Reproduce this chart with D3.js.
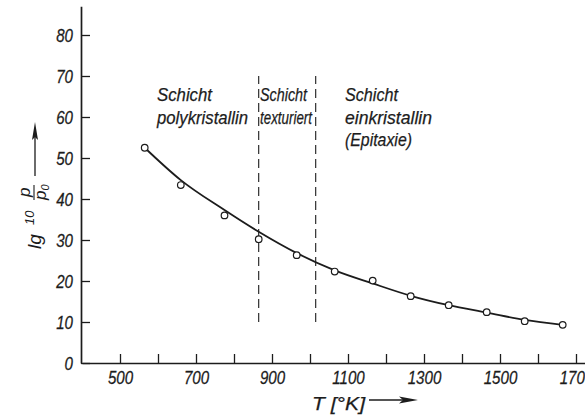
<!DOCTYPE html>
<html>
<head>
<meta charset="utf-8">
<script src="https://cdn.jsdelivr.net/npm/d3@7"></script>
<style>
  html, body { margin: 0; padding: 0; background: #fff; }
  svg { display: block; }
  text { font-family: 'Liberation Sans Narrow', 'Liberation Sans', sans-serif; font-style: italic; fill: #1c1c1c; }
</style>
</head>
<body>
<svg id="chart" width="585" height="417"></svg>
<script>
// measured points (open circles)
var temps = [565, 660, 775, 865, 965, 1065, 1165, 1265, 1365, 1465, 1565, 1665];
var lgRatio = [52.5, 43.4, 36.0, 30.2, 26.3, 22.3, 20.1, 16.3, 14.1, 12.4, 10.2, 9.3];

// smooth curve as drawn through the points
var fitTemps = [565, 660, 775, 865, 965, 1065, 1165, 1265, 1365, 1465, 1565, 1665];
var fitValues = [52.5, 44.6, 37.3, 32.0, 26.8, 22.6, 19.4, 16.4, 14.1, 12.3, 10.5, 9.3];

// dashed region boundaries and their vertical extent
var boundaryTemps = [865, 1015];
var boundarySpan = [10, 70];

var regionLabels = [
  ['Schicht', 'polykristallin'],
  ['Schicht', 'texturiert'],
  ['Schicht', 'einkristallin', '(Epitaxie)']
];

var xTicks = d3.range(500, 1701, 100);
var yTicks = d3.range(0, 81, 10);

var svg = d3.select('#chart');
var ink = '#1c1c1c';

var x = d3.scaleLinear().domain([400, 1725]).range([82, 585.5]);
var y = d3.scaleLinear().domain([0, 87]).range([363, 6.3]);

// axes, ticks pointing inward
var xAxis = svg.append('g')
  .attr('transform', 'translate(0,363)')
  .call(d3.axisBottom(x)
    .tickValues(xTicks)
    .tickSize(-9)
    .tickSizeOuter(0)
    .tickPadding(8)
    .tickFormat(function(d) { return (d / 100) % 2 ? d : ''; }));

var yAxis = svg.append('g')
  .attr('transform', 'translate(81,0)')
  .call(d3.axisLeft(y)
    .tickValues(yTicks)
    .tickSize(-9)
    .tickSizeOuter(0)
    .tickPadding(8));

[xAxis, yAxis].forEach(function(g) {
  g.attr('font-family', null).attr('font-size', null);
  g.select('.domain').attr('stroke', ink).attr('stroke-width', 1.7);
  g.selectAll('.tick line').attr('stroke', ink).attr('stroke-width', 1.3);
  g.selectAll('.tick text')
    .attr('fill', ink)
    .attr('stroke', ink)
    .attr('stroke-width', 0.25)
    .attr('transform', 'scale(0.84,1)')
    .style('font-size', '18px');
});
yAxis.selectAll('.tick text').attr('x', -9.5).attr('dy', '0.36em');

// dashed boundaries
svg.append('g').selectAll('line')
  .data(boundaryTemps)
  .enter().append('line')
  .attr('x1', function(d) { return x(d); })
  .attr('x2', function(d) { return x(d); })
  .attr('y1', y(boundarySpan[0]))
  .attr('y2', y(boundarySpan[1]))
  .attr('stroke', ink)
  .attr('stroke-width', 1.1)
  .attr('stroke-dasharray', '9,5');

// curve
var line = d3.line()
  .x(function(d) { return x(d[0]); })
  .y(function(d) { return y(d[1]); })
  .curve(d3.curveMonotoneX);

svg.append('path')
  .datum(d3.zip(fitTemps, fitValues))
  .attr('d', line)
  .attr('fill', 'none')
  .attr('stroke', ink)
  .attr('stroke-width', 1.8);

// points
svg.append('g').selectAll('circle')
  .data(d3.zip(temps, lgRatio))
  .enter().append('circle')
  .attr('cx', function(d) { return x(d[0]); })
  .attr('cy', function(d) { return y(d[1]); })
  .attr('r', 3.3)
  .attr('fill', '#fff')
  .attr('stroke', ink)
  .attr('stroke-width', 1.2);

// region captions
var captionX = [157, 260, 345];
var captionWidths = [[55, 91], [47, 52], [53, 87, 67]];
regionLabels.forEach(function(lines, i) {
  lines.forEach(function(t, j) {
    svg.append('text')
      .attr('x', captionX[i])
      .attr('y', 101 + j * 22.5)
      .attr('textLength', captionWidths[i][j])
      .attr('lengthAdjust', 'spacingAndGlyphs')
      .attr('stroke', ink)
      .attr('stroke-width', 0.25)
      .style('font-size', '19px')
      .text(t);
  });
});

// y axis title: lg 10 p/p0 with arrow
var yt = svg.append('g').attr('transform', 'translate(41,249) rotate(-90)');
yt.append('text').attr('x', 0).attr('y', 0).style('font-size', '19px').text('lg');
yt.append('text').attr('x', 24).attr('y', -7).style('font-size', '13px').text('10');
yt.append('text').attr('x', 52).attr('y', -11).style('font-size', '17px').text('p');
yt.append('line').attr('x1', 49).attr('x2', 64).attr('y1', -7).attr('y2', -7)
  .attr('stroke', ink).attr('stroke-width', 1.1);
var den = yt.append('text').attr('x', 49).attr('y', 5).style('font-size', '17px');
den.append('tspan').text('p');
den.append('tspan').attr('dy', 3).style('font-size', '11px').text('0');

svg.append('line').attr('x1', 35).attr('x2', 35).attr('y1', 176).attr('y2', 136)
  .attr('stroke', ink).attr('stroke-width', 1.3);
svg.append('path').attr('d', 'M35,122 L38,140 L35,137 L32,140 Z').attr('fill', ink);

// x axis title with arrow
svg.append('text').attr('x', 312).attr('y', 410)
  .attr('textLength', 53).attr('lengthAdjust', 'spacingAndGlyphs')
  .attr('stroke', ink).attr('stroke-width', 0.25)
  .style('font-size', '19px').text('T [°K]');
svg.append('line').attr('x1', 369).attr('x2', 404).attr('y1', 400).attr('y2', 400)
  .attr('stroke', ink).attr('stroke-width', 1.3);
svg.append('path').attr('d', 'M418,400 L399,396.5 L403,400 L399,403.5 Z').attr('fill', ink);
</script>
</body>
</html>
